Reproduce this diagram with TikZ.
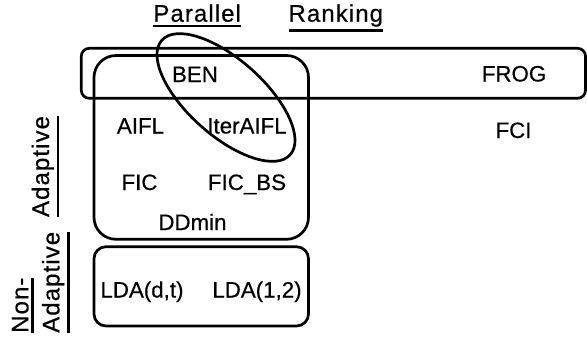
\documentclass[tikz,border=0pt]{standalone}
\usepackage{fontspec}
\setmainfont[FakeBold=0.5]{Liberation Sans}
\newfontfamily\headfont[LetterSpace=4.5,FakeBold=0.5]{Liberation Sans}
\usetikzlibrary{shapes.geometric}

% text with a heavy rule set below its depth
\newcommand{\ulbox}[1]{\leavevmode\vtop{\hbox{#1}\kern2.8pt\hrule height 2.4pt}}

\tikzset{
  region/.style={draw, line width=2.7pt},
  item/.style={font=\fontsize{22.3}{26}\selectfont, anchor=base, inner sep=0pt},
  head/.style={font=\headfont\fontsize{24}{31}\selectfont, inner sep=0pt},
}

\begin{document}
\begin{tikzpicture}[x=1pt,y=-1pt]
\useasboundingbox (0,0) rectangle (587,340);

% category regions
\draw[region, rounded corners=8pt]  (81.3,48.3) rectangle (585.5,98.3);
\draw[region, rounded corners=22pt] (94,55.5)   rectangle (308.5,239.3);
\draw[region, rounded corners=12pt] (94,246.7)  rectangle (308.5,326);
\node[region, ellipse, minimum width=172pt, minimum height=76pt,
      inner sep=0pt, rotate=-41.7] (par) at (226,97.5) {};

% headings
\node[head, anchor=base] (parallel) at (197.2,21.7) {\ulbox{Parallel}};
\node[head, anchor=base] (ranking)  at (335.8,21.7) {\ulbox{Ranking}};
\node[head, anchor=base, rotate=90] (adaptive) at (49,166.5) {\ulbox{Adaptive}};
\node[head, anchor=north west, rotate=90, align=left] (nonadaptive)
     at (11.7,333) {\ulbox{Non-}\\\ulbox{Adaptive}};

% algorithms
\node[item] (ben)      at (195,82)    {BEN};
\node[item] (frog)     at (514,81.5)  {FROG};
\node[item] (aifl)     at (140.5,133.5) {AIFL};
\node[item] (iteraifl) at (247,133.5) {IterAIFL};
\node[item] (fci)      at (513.5,138) {FCI};
\node[item] (fic)      at (139.5,190) {FIC};
\node[item] (ficbs)    at (247,190)   {FIC\_BS};
\node[item] (ddmin)    at (192.5,230) {DDmin};
\node[item] (ldadt)    at (142,297.5) {LDA(d,t)};
\node[item] (lda12)    at (257,297.5) {LDA(1,2)};
\end{tikzpicture}
\end{document}
